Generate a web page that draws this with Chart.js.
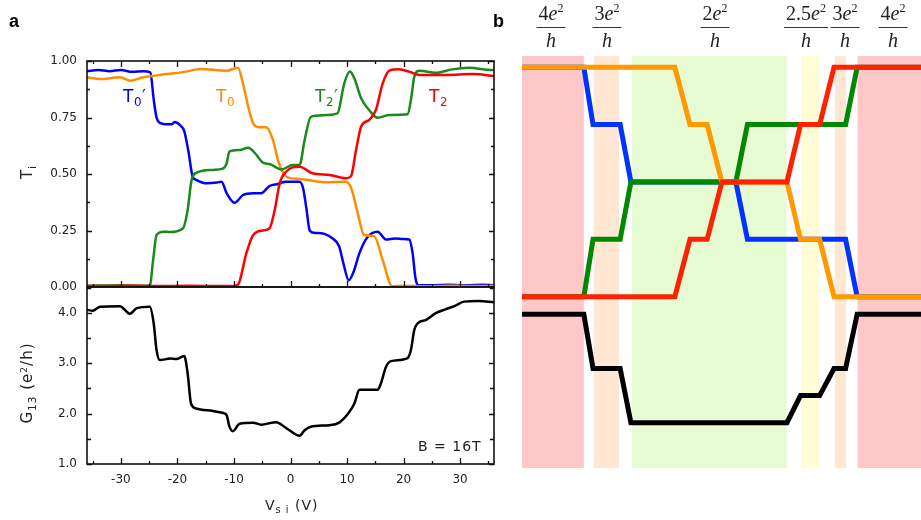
<!DOCTYPE html>
<html>
<head>
<meta charset="utf-8">
<script src="https://cdn.jsdelivr.net/npm/chart.js@4.4.1/dist/chart.umd.min.js"></script>
<style>
  body { margin: 0; width: 921px; height: 520px; overflow: hidden; position: relative; background: #fff; font-family: 'DejaVu Sans', sans-serif; color: #222; }
  canvas { position: absolute; }
  .lbl { position: absolute; white-space: nowrap; }
  .lbl sub { font-size: 70%; vertical-align: -0.3em; }
  .lbl sup { font-size: 60%; vertical-align: 0.6em; }
  .panel { font-family: 'Liberation Sans', Arial, sans-serif; font-weight: bold; font-size: 18px; color: #000; }
  .curve { font-size: 17px; letter-spacing: 0.5px; }
  .rot { transform: translate(-50%, -50%) rotate(-90deg); font-size: 15px; letter-spacing: 1px; }
  .frac { position: absolute; top: 3px; transform: translateX(-50%); font-family: 'Liberation Serif', 'DejaVu Serif', serif; font-size: 20px; text-align: center; color: #222; }
  .frac .num { line-height: 20px; padding: 0 2px 1px 2px; border-bottom: 1.3px solid #333; }
  .frac .num sup { font-size: 12px; position: relative; top: -8px; vertical-align: baseline; }
  .frac .den { line-height: 20px; padding-top: 2px; }
</style>
</head>
<body>
<canvas id="transChart" width="500" height="300" style="left:0;top:0"></canvas>
<canvas id="condChart" width="500" height="240" style="left:0;top:280px"></canvas>
<canvas id="schemeChart" width="411" height="520" style="left:510px;top:0"></canvas>

<div class="lbl panel" style="left:9px;top:11px">a</div>
<div class="lbl panel" style="left:493px;top:11px">b</div>

<div class="lbl curve" style="left:123px;top:86px;color:#0000ff">T<sub>0</sub>′</div>
<div class="lbl curve" style="left:216px;top:86px;color:#ff8c00">T<sub>0</sub></div>
<div class="lbl curve" style="left:315px;top:86px;color:#1a8a1a">T<sub>2</sub>′</div>
<div class="lbl curve" style="left:429px;top:86px;color:#ff0000">T<sub>2</sub></div>
<div class="lbl" style="left:418px;top:438px;font-size:14px;letter-spacing:1px">B = 16T</div>

<div class="lbl rot" style="left:28px;top:172px">T<sub>i</sub></div>
<div class="lbl rot" style="left:28px;top:383px">G<sub>13</sub> (e<sup>2</sup>/h)</div>
<div class="lbl" style="left:265px;top:497px;font-size:14px;letter-spacing:1px">V<sub>s i</sub> (V)</div>

<div class="frac" style="left:551px"><div class="num">4<i>e</i><sup>2</sup></div><div class="den"><i>h</i></div></div>
<div class="frac" style="left:607px"><div class="num">3<i>e</i><sup>2</sup></div><div class="den"><i>h</i></div></div>
<div class="frac" style="left:715px"><div class="num">2<i>e</i><sup>2</sup></div><div class="den"><i>h</i></div></div>
<div class="frac" style="left:806px"><div class="num">2.5<i>e</i><sup>2</sup></div><div class="den"><i>h</i></div></div>
<div class="frac" style="left:845px"><div class="num">3<i>e</i><sup>2</sup></div><div class="den"><i>h</i></div></div>
<div class="frac" style="left:893px"><div class="num">4<i>e</i><sup>2</sup></div><div class="den"><i>h</i></div></div>

<script>
// ---- measured transmissions vs gate voltage V_si ----
const t0pV = [-36,-34,-32,-30,-28,-26,-24.8,-24.2,-23.7,-23,-22,-21,-20.5,-19.5,-18.8,-18.1,-17.3,-16.6,-14.9,-13,-12.2,-11.3,-9.9,-8.4,-6.6,-5.2,-3.7,-2.2,-0.8,1.6,2.2,2.8,3.4,4.2,6,7.4,8.6,9.4,10.3,11.2,12.2,13.6,15.4,16.9,18.5,20,21,21.6,22.1,22.6,25,28,31,34,36];
const t0pT = [0.955,0.96,0.955,0.96,0.952,0.955,0.95,0.83,0.75,0.725,0.72,0.72,0.73,0.715,0.69,0.606,0.488,0.473,0.459,0.462,0.466,0.415,0.373,0.407,0.415,0.415,0.447,0.456,0.466,0.466,0.44,0.35,0.25,0.24,0.235,0.216,0.18,0.10,0.03,0.07,0.15,0.22,0.245,0.21,0.215,0.212,0.21,0.15,0.04,0.008,0.008,0.01,0.008,0.01,0.008];

const t0V = [-36,-33.7,-30.2,-28.4,-26,-21.9,-18.4,-16,-11.3,-9.3,-8.4,-7.5,-6.6,-5.5,-4.3,-3.1,-2.2,-1.6,-0.5,1.6,6.3,9.8,10.7,11.9,13,14.8,16.3,18,20,24,28,32,36];
const t0T = [0.928,0.92,0.928,0.913,0.928,0.942,0.953,0.965,0.957,0.97,0.9,0.8,0.724,0.707,0.707,0.65,0.56,0.52,0.485,0.478,0.463,0.466,0.44,0.326,0.23,0.225,0.12,0.003,0.005,0.003,0.006,0.004,0.005];

const t2pV = [-36,-30,-26,-24.9,-24.3,-23.7,-22.5,-21.3,-19,-18.2,-17.5,-16.6,-13.7,-11.9,-11.3,-10.8,-9,-7.5,-6,-4.9,-3.7,-1.6,0.4,1.6,2.5,3.6,5.7,8.3,9.5,10.5,11.3,12.5,13.9,15.4,17.5,20.7,21.3,21.9,22.8,25.7,28.6,31.6,35.7,36];
const t2pT = [0.005,0.008,0.005,0.005,0.12,0.23,0.245,0.243,0.26,0.34,0.473,0.506,0.518,0.525,0.547,0.6,0.606,0.616,0.584,0.55,0.544,0.52,0.54,0.54,0.65,0.753,0.76,0.768,0.9,0.953,0.923,0.835,0.783,0.749,0.761,0.764,0.827,0.93,0.957,0.948,0.963,0.97,0.96,0.96];

const t2V = [-36,-30,-24,-18,-12,-10.2,-9.3,-7.8,-6.6,-4.9,-3.7,-2.8,-1.9,-0.8,1.6,3.9,6.9,9.8,10.7,11.6,12.5,13.9,15.1,16.3,17.5,19.2,21,22.8,27.5,32.2,36];
const t2T = [0.004,0.006,0.004,0.005,0.004,0.004,0.01,0.15,0.23,0.25,0.26,0.34,0.46,0.51,0.532,0.503,0.496,0.481,0.49,0.606,0.71,0.739,0.783,0.9,0.957,0.963,0.953,0.938,0.938,0.942,0.934];

// two-terminal conductance G13 in e^2/h
const g13V = [-36,-35,-33.7,-30.2,-28.4,-27.2,-24.9,-24.2,-23.7,-23.1,-21.3,-20.2,-18.8,-18.2,-17.6,-16.7,-13.7,-11.9,-11.3,-10.8,-10.2,-9,-6.6,-5.2,-2.5,-1.9,-0.2,1.6,2.5,3.6,6.9,8.6,10.4,11.3,12.2,15.4,16,16.9,17.8,20.7,21.3,21.9,22.5,24,25.7,27.5,29.2,30.7,33.3,36];
const g13 = [4.06,4.04,4.12,4.13,3.98,4.09,4.12,3.79,3.26,3.06,3.09,3.08,3.14,2.8,2.2,2.1,2.05,2.01,1.97,1.74,1.65,1.8,1.82,1.78,1.83,1.8,1.67,1.56,1.67,1.74,1.77,1.82,2.03,2.2,2.47,2.47,2.6,2.93,3.04,3.1,3.26,3.66,3.79,3.86,3.99,4.07,4.14,4.22,4.23,4.21];

// axis ticks
const vMajor = [-30, -20, -10, 0, 10, 20, 30];
const vMinor = [-35, -25, -15, -5, 5, 15, 25, 35];
const tMajor = [0, 0.25, 0.5, 0.75, 1];
const tMinor = [0.125, 0.375, 0.625, 0.875];
const gMajor = [1, 2, 3, 4];
const gMinor = [1.5, 2.5, 3.5, 4.5];

// ---- schematic (panel b): position along the sweep, ideal levels ----
const edgeX = [0, 15.5, 17.8, 24.6, 27.3, 53.6, 56.5, 81.1, 84.0, 100];
const innerX = [0, 38.3, 42.1, 46.4, 50.1, 66.4, 69.8, 74.6, 78.2, 100];
const fallT = [1, 1, 0.75, 0.75, 0.5, 0.5, 0.25, 0.25, 0, 0];
const riseT = [0, 0, 0.25, 0.25, 0.5, 0.5, 0.75, 0.75, 1, 1];
const schemeGX = [0, 15.5, 17.8, 24.6, 27.3, 66.4, 69.8, 74.6, 78.2, 81.1, 84.0, 100];
const schemeG = [4, 4, 3, 3, 2, 2, 2.5, 2.5, 3, 3, 4, 4];

// plateau regions and their colours
const bandStart = [0, 18.0, 27.6, 69.9, 78.4, 84.1];
const bandEnd = [15.5, 24.3, 66.3, 74.4, 81.2, 100];
const bandColor = ['#ffc8c8', '#ffe7d3', '#e7fbd3', '#fffcd6', '#ffe7d3', '#ffc8c8'];

const pts = (xs, ys) => xs.map((x, i) => ({ x: x, y: ys[i] }));

// frame plus inward tick marks
const frameTicks = {
  id: 'frameTicks',
  afterDatasetsDraw(chart, args, opts) {
    if (!opts.marks) return;
    const { ctx, chartArea: a, scales } = chart;
    ctx.save();
    ctx.strokeStyle = '#111';
    ctx.lineWidth = 1.3;
    ctx.beginPath();
    opts.marks.forEach(m => {
      const s = scales[m.axis];
      m.values.forEach(v => {
        const p = Math.round(s.getPixelForValue(v)) + 0.5;
        m.sides.forEach(side => {
          if (side === 'bottom') { ctx.moveTo(p, a.bottom); ctx.lineTo(p, a.bottom - m.len); }
          if (side === 'top') { ctx.moveTo(p, a.top); ctx.lineTo(p, a.top + m.len); }
          if (side === 'left') { ctx.moveTo(a.left, p); ctx.lineTo(a.left + m.len, p); }
          if (side === 'right') { ctx.moveTo(a.right, p); ctx.lineTo(a.right - m.len, p); }
        });
      });
    });
    ctx.stroke();
    ctx.lineWidth = 1.6;
    ctx.strokeRect(a.left, a.top, a.right - a.left, a.bottom - a.top);
    ctx.restore();
  }
};

// coloured background bands for panel b
const bands = {
  id: 'bands',
  beforeDatasetsDraw(chart, args, opts) {
    if (!opts.show) return;
    const { ctx, chartArea: a, scales } = chart;
    ctx.save();
    bandStart.forEach((s, i) => {
      const x0 = scales.x.getPixelForValue(s);
      const x1 = scales.x.getPixelForValue(bandEnd[i]);
      ctx.fillStyle = bandColor[i];
      ctx.fillRect(x0, a.top, x1 - x0, a.bottom - a.top);
    });
    ctx.restore();
  }
};

Chart.register(frameTicks, bands);
Chart.defaults.font.family = "'DejaVu Sans', sans-serif";
Chart.defaults.font.size = 12;
Chart.defaults.color = '#222';
Chart.defaults.animation = false;

function line(label, data, color, width) {
  return {
    label: label,
    data: data,
    borderColor: color,
    borderWidth: width,
    pointRadius: 0,
    cubicInterpolationMode: 'monotone',
    fill: false
  };
}

// keep the axis boxes to fixed sizes so the two panels line up
function fixWidth(w) {
  return s => { s.width = w; s.paddingTop = 0; s.paddingBottom = 0; };
}
function fixHeight(h) {
  return s => { s.height = h; s.paddingLeft = 0; s.paddingRight = 0; };
}

// ---- panel a, top: transmissions ----
new Chart(document.getElementById('transChart'), {
  type: 'line',
  data: {
    datasets: [
      line('T2', pts(t2V, t2T), '#ff0000', 2.5),
      line("T2'", pts(t2pV, t2pT), '#1a8a1a', 2.5),
      line('T0', pts(t0V, t0T), '#ff8c00', 2.5),
      line("T0'", pts(t0pV, t0pT), '#0000ff', 2.5)
    ]
  },
  options: {
    responsive: false,
    layout: { padding: { top: 61, right: 6, bottom: 13, left: 0 } },
    plugins: {
      legend: { display: false },
      tooltip: { enabled: false },
      frameTicks: {
        marks: [
          { axis: 'x', values: vMajor, len: 6, sides: ['top', 'bottom'] },
          { axis: 'x', values: vMinor, len: 3, sides: ['top', 'bottom'] },
          { axis: 'y', values: tMajor, len: 5, sides: ['left', 'right'] },
          { axis: 'y', values: tMinor, len: 3, sides: ['left', 'right'] }
        ]
      }
    },
    scales: {
      x: { type: 'linear', min: -36, max: 36, display: false },
      y: {
        min: 0, max: 1,
        grid: { display: false, drawTicks: false },
        border: { display: false },
        afterFit: fixWidth(87),
        afterBuildTicks: s => { s.ticks = tMajor.map(v => ({ value: v })); },
        ticks: { padding: 10, callback: v => v.toFixed(2) }
      }
    }
  }
});

// ---- panel a, bottom: conductance ----
new Chart(document.getElementById('condChart'), {
  type: 'line',
  data: { datasets: [line('G13', pts(g13V, g13), '#000', 2.5)] },
  options: {
    responsive: false,
    layout: { padding: { top: 7, right: 6, bottom: 0, left: 0 } },
    plugins: {
      legend: { display: false },
      tooltip: { enabled: false },
      frameTicks: {
        marks: [
          { axis: 'x', values: vMajor, len: 6, sides: ['bottom'] },
          { axis: 'x', values: vMinor, len: 3, sides: ['bottom'] },
          { axis: 'y', values: gMajor, len: 5, sides: ['left', 'right'] },
          { axis: 'y', values: gMinor, len: 4, sides: ['left', 'right'] }
        ]
      }
    },
    scales: {
      x: {
        type: 'linear', min: -36, max: 36,
        grid: { display: false, drawTicks: false },
        border: { display: false },
        afterFit: fixHeight(56),
        afterBuildTicks: s => { s.ticks = vMajor.map(v => ({ value: v })); },
        ticks: { padding: 9, maxRotation: 0, callback: v => String(v) }
      },
      y: {
        min: 1, max: 4.51,
        grid: { display: false, drawTicks: false },
        border: { display: false },
        afterFit: fixWidth(87),
        afterBuildTicks: s => { s.ticks = gMajor.map(v => ({ value: v })); },
        ticks: { padding: 10, callback: v => v.toFixed(1) }
      }
    }
  }
});

// ---- panel b: edge-channel schematic ----
function schemeLine(label, data, color, axis) {
  const d = line(label, data, color, 5);
  d.cubicInterpolationMode = 'default';
  d.tension = 0;
  d.yAxisID = axis;
  d.borderJoinStyle = 'miter';
  d.borderCapStyle = 'butt';
  return d;
}

new Chart(document.getElementById('schemeChart'), {
  type: 'line',
  data: {
    datasets: [
      schemeLine('T2', pts(innerX, riseT), '#ff2200', 'yT'),
      schemeLine('T0', pts(innerX, fallT), '#ff9900', 'yT'),
      schemeLine("T2'", pts(edgeX, riseT), '#008800', 'yT'),
      schemeLine("T0'", pts(edgeX, fallT), '#0033ff', 'yT'),
      schemeLine('G13', pts(schemeGX, schemeG), '#000000', 'yG')
    ]
  },
  options: {
    responsive: false,
    layout: { padding: { top: 56, right: 0, bottom: 52, left: 12 } },
    plugins: { legend: { display: false }, tooltip: { enabled: false }, bands: { show: true } },
    scales: {
      x: { type: 'linear', min: 0, max: 100, display: false },
      yT: { min: -0.747, max: 1.049, display: false },
      yG: { min: 1.164, max: 8.766, display: false }
    }
  }
});
</script>
</body>
</html>
